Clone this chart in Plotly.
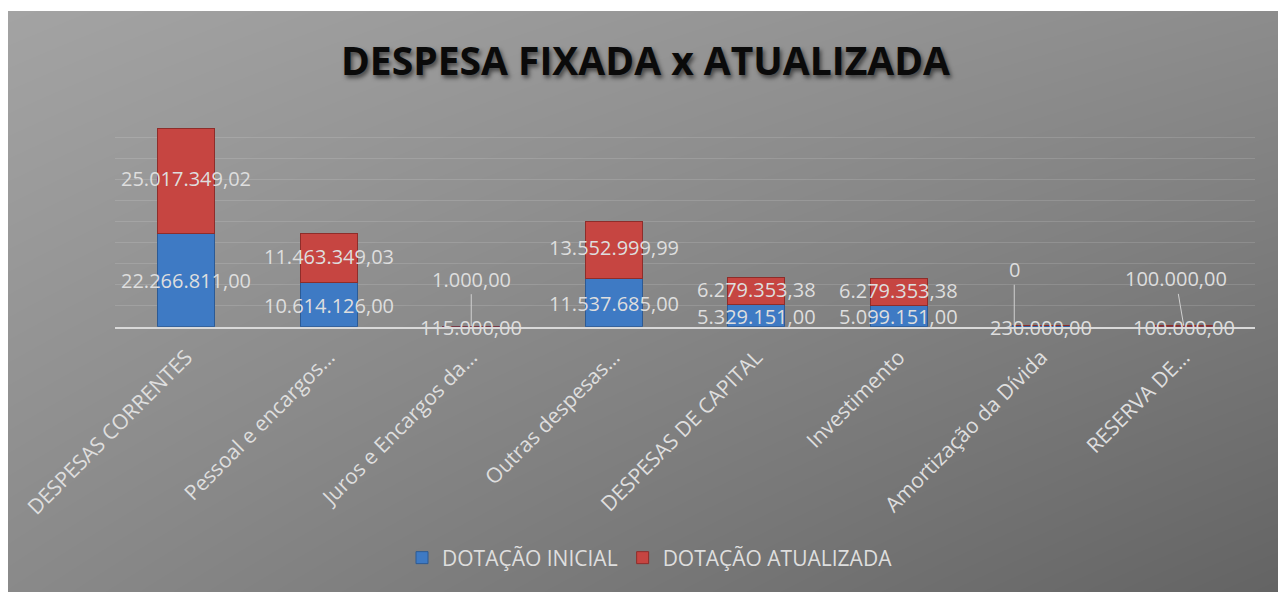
import plotly.graph_objs as go

W, H = 1286, 592

# data
categorias = [
    'DESPESAS CORRENTES',
    'Pessoal e encargos…',
    'Juros e Encargos da…',
    'Outras despesas…',
    'DESPESAS DE CAPITAL',
    'Investimento',
    'Amortização da Dívida',
    'RESERVA DE…',
]
dotacao_inicial = [22266811.00, 10614126.00, 115000.00, 11537685.00,
                   5329151.00, 5099151.00, 230000.00, 100000.00]
dotacao_atualizada = [25017349.02, 11463349.03, 1000.00, 13552999.99,
                      6279353.38, 6279353.38, 0.0, 100000.00]

titulo = 'DESPESA FIXADA x ATUALIZADA'

cor_azul = '#3e7ac4'
cor_vermelho = '#c64541'
cor_texto = '#dedede'


def br(v):
    # formato brasileiro 1.234,56
    if v == 0:
        return '0'
    s = '{:,.2f}'.format(v)
    return s.replace(',', '#').replace('.', ',').replace('#', '.')


def px_x(p):
    return p / W


def px_y(p):
    return 1 - p / H


traces = []

# fundo cinza em degrade (diagonal) - heatmap 2x2 suavizado
traces.append(go.Heatmap(
    x=[0, 1], y=[0, 1],
    z=[[137, 99], [163, 140]],
    zmin=0, zmax=255,
    colorscale=[[0, 'rgb(0,0,0)'], [1, 'rgb(255,255,255)']],
    zsmooth='best', showscale=False, hoverinfo='skip',
    xaxis='x', yaxis='y',
))

traces.append(go.Bar(
    x=categorias, y=dotacao_inicial, name='DOTAÇÃO INICIAL',
    marker=dict(color=cor_azul, line=dict(color='#2c5a94', width=1)),
    xaxis='x2', yaxis='y2', hoverinfo='skip',
))
traces.append(go.Bar(
    x=categorias, y=dotacao_atualizada, name='DOTAÇÃO ATUALIZADA',
    marker=dict(color=cor_vermelho, line=dict(color='#8e2d2a', width=1)),
    xaxis='x2', yaxis='y2', hoverinfo='skip',
))

# rotulos de dados
anotacoes = []
fonte_rotulo = dict(family='Open Sans', size=20, color=cor_texto)
for i, cat in enumerate(categorias):
    ini = dotacao_inicial[i]
    atu = dotacao_atualizada[i]
    anotacoes.append(dict(
        x=cat, y=ini / 2, xref='x2', yref='y2', text=br(ini),
        showarrow=False, font=fonte_rotulo, yanchor='middle',
        borderpad=0, yshift=-1,
    ))
    if atu > 1000000:
        anotacoes.append(dict(
            x=cat, y=ini + atu / 2, xref='x2', yref='y2', text=br(atu),
            showarrow=False, font=fonte_rotulo, yanchor='middle',
            borderpad=0, yshift=2,
        ))

# rotulos pequenos com linha de chamada
chamadas = {2: (0, -47, 0), 6: (0, -56, -27), 7: (-8, -47, 0)}
for i, (ax, ay, xs) in chamadas.items():
    anotacoes.append(dict(
        x=categorias[i], y=dotacao_inicial[i] + dotacao_atualizada[i],
        xref='x2', yref='y2', text=br(dotacao_atualizada[i]),
        showarrow=True, arrowhead=0, arrowwidth=1, arrowcolor='#d0d0d0',
        ax=ax, ay=ay, xshift=xs, font=fonte_rotulo,
    ))

anotacoes.append(dict(
    x=px_x(637), y=px_y(52), xref='paper', yref='paper',
    text='<b>' + titulo + '</b>',
    showarrow=False, yanchor='middle',
    font=dict(family='Open Sans', size=39, color='#0a0a0a',
              shadow='2px 3px 4px rgba(0,0,0,0.55)'),
))

layout = go.Layout(
    width=W, height=H,
    margin=dict(l=0, r=0, t=0, b=0, autoexpand=False),
    paper_bgcolor='white',
    plot_bgcolor='rgba(0,0,0,0)',
    barmode='stack',
    bargap=0.6,
    font=dict(family='Open Sans', color=cor_texto),
    showlegend=True,
    legend=dict(orientation='h', x=px_x(642), xanchor='center', y=px_y(550),
                yanchor='middle', font=dict(size=21, color=cor_texto),
                bgcolor='rgba(0,0,0,0)', traceorder='normal'),
    xaxis=dict(domain=[0, px_x(1274)], range=[0, 1], visible=False,
               fixedrange=True),
    yaxis=dict(domain=[0, px_y(3)], range=[0, 1], visible=False,
               fixedrange=True),
    xaxis2=dict(domain=[px_x(107), px_x(1247)], anchor='y2',
                tickangle=-45, tickfont=dict(size=21, color=cor_texto),
                ticklabelstandoff=8,
                showline=True, linecolor='#d9d9d9', linewidth=2,
                showgrid=False, ticks='', automargin=False),
    yaxis2=dict(domain=[px_y(318.7), px_y(108.7)], anchor='x2',
                range=[0, 50000000], dtick=5000000,
                showticklabels=False, showgrid=True,
                gridcolor='rgba(255,255,255,0.13)', gridwidth=1,
                zeroline=False, ticks=''),
    annotations=anotacoes,
)

fig = go.Figure(data=traces, layout=layout)
fig.write_html('out.html')
